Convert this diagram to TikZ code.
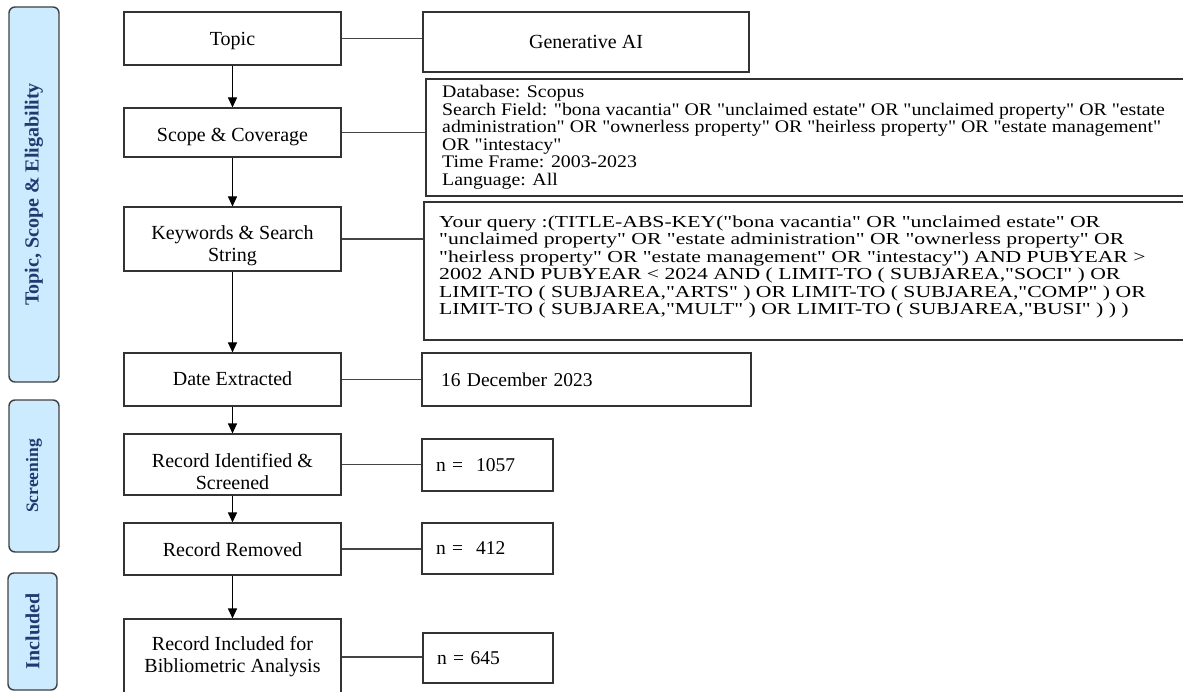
\documentclass[tikz,border=0pt]{standalone}
\usepackage{fontspec}
\setmainfont{Liberation Serif}
\newfontfamily\scopefont[FakeStretch=1.12]{Liberation Serif}
\newfontfamily\queryfont[FakeStretch=1.29]{Liberation Serif}
\usetikzlibrary{arrows.meta}
\definecolor{barfill}{HTML}{CDEBFF}
\definecolor{barline}{HTML}{404040}
\definecolor{bartext}{HTML}{1F3A6E}
\definecolor{boxline}{HTML}{333333}
\definecolor{connline}{HTML}{444444}
\newcommand{\mytightlines}{\lineskiplimit=-100pt\relax\lineskip=0pt\relax}
\begin{document}
\begin{tikzpicture}[x=1pt,y=-1pt,
  stepbox/.style={draw=boxline, line width=1.1pt, inner sep=0pt, align=center,
    font=\fontsize{20}{22}\selectfont},
  infobox/.style={draw=boxline, line width=1.1pt, inner sep=0pt},
  leftinfo/.style={draw=boxline, line width=1.1pt, inner ysep=0pt, align=left,
    font=\fontsize{19.5}{22}\selectfont},
  sidebar/.style={draw=barline, fill=barfill, line width=1.4pt, rounded corners=6pt,
    rotate=90, inner sep=0pt, text=bartext, font=\bfseries\fontsize{20}{22}\selectfont},
  flowarrow/.style={draw=black, line width=1.1pt, -{Triangle[width=9pt,length=10pt]}},
  connector/.style={draw=connline, line width=1.1pt},
  scopetext/.style={inner sep=0pt, align=left, anchor=north west,
    font=\scopefont\fontsize{17.7}{17.6}\selectfont\mytightlines},
  querytext/.style={inner sep=0pt, align=left, anchor=north west,
    font=\queryfont\fontsize{16.8}{17.5}\selectfont\mytightlines}
]
\useasboundingbox (0,0) rectangle (1183,692);

% side bars
\node[sidebar, minimum width=375pt, minimum height=50pt] (bar1) at (34,194.5) {Topic, Scope \& Eligability};
\node[sidebar, minimum width=152pt, minimum height=50pt, font=\bfseries\fontsize{17.5}{20}\selectfont] (bar2) at (34,476) {Screening};
\node[sidebar, minimum width=117pt, minimum height=49pt] (bar3) at (32.5,631.5) {Included};

% left column
\node[stepbox, minimum width=217pt, minimum height=53pt, text height=14.4pt, text depth=0pt] (topic) at (232.5,38.5) {Topic};
\node[stepbox, minimum width=217pt, minimum height=49pt, text height=19pt, text depth=0pt] (scope) at (232.5,132.5) {Scope \& Coverage};
\node[stepbox, minimum width=217pt, minimum height=64pt, text height=45.4pt, text depth=0pt] (keys) at (232.5,239) {Keywords \& Search\\String};
\node[stepbox, minimum width=217pt, minimum height=53pt, text height=11pt, text depth=0pt] (date) at (232.5,379.5) {Date Extracted};
\node[stepbox, minimum width=217pt, minimum height=61pt, text height=49pt, text depth=0pt] (ident) at (232.5,464.5) {Record Identified \&\\Screened};
\node[stepbox, minimum width=217pt, minimum height=52pt, text height=15pt, text depth=0pt] (removed) at (232.5,549) {Record Removed};
\node[stepbox, minimum width=217pt, minimum height=76pt, text height=31.4pt, text depth=0pt] (incl) at (232.5,657) {Record Included for\\Bibliometric Analysis};

% right column
\node[stepbox, minimum width=326pt, minimum height=60pt] (genai) at (586,42) {Generative AI};
\node[infobox, minimum width=760pt, minimum height=117pt] (scopebox) at (806,137.5) {};
\node[infobox, minimum width=762pt, minimum height=138pt] (querybox) at (805,271) {};
\node[scopetext] (scopetxt) at (442,85) {Database: Scopus\\
Search Field: "bona vacantia" OR "unclaimed estate" OR "unclaimed property" OR "estate\\
administration" OR "ownerless property" OR "heirless property" OR "estate management"\\
OR "intestacy"\\
Time Frame: 2003-2023\\
Language: All};
\node[querytext] (querytxt) at (439,215.5) {Your query :(TITLE-ABS-KEY("bona vacantia" OR "unclaimed estate" OR\\
"unclaimed property" OR "estate administration" OR "ownerless property" OR\\
"heirless property" OR "estate management" OR "intestacy") AND PUBYEAR >\\
2002 AND PUBYEAR < 2024 AND ( LIMIT-TO ( SUBJAREA,"SOCI" ) OR\\
LIMIT-TO ( SUBJAREA,"ARTS" ) OR LIMIT-TO ( SUBJAREA,"COMP" ) OR\\
LIMIT-TO ( SUBJAREA,"MULT" ) OR LIMIT-TO ( SUBJAREA,"BUSI" ) ) )};
\node[leftinfo, inner xsep=19pt, text width=291pt, minimum height=53pt] (datebox) at (586.5,379.5) {16 December 2023};
\node[leftinfo, inner xsep=14pt, text width=103pt, minimum height=52pt] (n1) at (487.5,465) {n = \ 1057};
\node[leftinfo, inner xsep=14pt, text width=103pt, minimum height=51pt] (n2) at (487.5,548.5) {n = \ 412};
\node[leftinfo, inner xsep=14pt, text width=102pt, minimum height=50pt] (n3) at (488,658) {n = 645};

% arrows
\draw[flowarrow] (topic) -- (scope);
\draw[flowarrow] (scope) -- (keys);
\draw[flowarrow] (keys) -- (date);
\draw[flowarrow] (date) -- (ident);
\draw[flowarrow] (ident) -- (removed);
\draw[flowarrow] (removed) -- (incl);

% connectors
\draw[connector] (topic.east) -- (topic.east -| genai.west);
\draw[connector] (scope.east) -- (scope.east -| scopebox.west);
\draw[connector] (keys.east) -- (keys.east -| querybox.west);
\draw[connector] (date.east) -- (date.east -| datebox.west);
\draw[connector] (ident.east) -- (ident.east -| n1.west);
\draw[connector] (removed.east) -- (removed.east -| n2.west);
\draw[connector] (incl.east) -- (incl.east -| n3.west);
\end{tikzpicture}
\end{document}
